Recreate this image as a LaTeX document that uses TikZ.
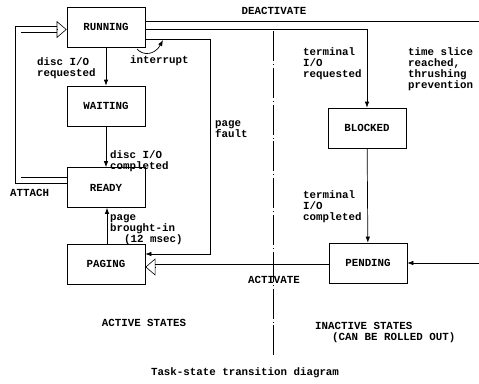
\documentclass[tikz,border=0pt]{standalone}
\usepackage{fontspec}
\setmainfont{Liberation Mono}
\usetikzlibrary{arrows.meta}
\tikzset{mybox/.style={draw,line width=0.7pt,minimum width=78pt,minimum height=40pt,inner sep=0pt}}
\tikzset{mydraw/.style={line width=0.7pt,-{Latex[length=6pt,width=4.5pt]}}}
\tikzset{mydbl/.style={line width=0.6pt,double,double distance=5pt}}
\tikzset{mytip/.style={line width=0.6pt,-{Triangle[open,length=10pt,width=17pt]}}}
\tikzset{mynode/.style={inner sep=0pt,align=left}}

\begin{document}
\begin{tikzpicture}[x=1pt,y=-1pt,every node/.style={font=\fontsize{10.8}{11.2}\selectfont\bfseries}]
	\useasboundingbox (0,0) rectangle (479,383);

	\node[mybox] (running) at (106,27) {RUNNING};
	\node[mybox] (waiting) at (106,106) {WAITING};
	\node[mybox] (ready) at (106,187.5) {READY};
	\node[mybox] (paging) at (106,264) {PAGING};
	\node[mybox] (blocked) at (367,128) {BLOCKED};
	\node[mybox] (pending) at (368,263) {PENDING};

	% transitions
	\draw[mydraw] (running) -- (waiting);
	\draw[mydraw] (waiting) -- (ready);
	\draw[mydraw] ([xshift=1pt]paging.north) -- ([xshift=1pt]ready.south);
	\draw[mydraw] (blocked) -- (pending);
	\draw[mydraw] ([yshift=-12pt]running.east) -- ++(65,0) |- ([yshift=10pt]paging.east);
	\draw[mydraw] ([yshift=-2pt]running.east) -| (blocked.north);
	\draw[line width=0.7pt] ([yshift=6pt]running.east) -- (479,21);
	\coordinate (slice) at (479,263);
	\draw[mydraw] (slice) -- (pending.east);
	\coordinate (irq) at (137,49);
	\coordinate (irqend) at (163,40);
	\draw[mydraw] (irq) .. controls (143,56) and (155,55) .. (irqend);

	% double arrows (ATTACH, ACTIVATE)
	\draw[mydbl] ([yshift=7pt]ready.west) -| (18,100) |- ([xshift=-10pt,yshift=-2.5pt]running.west);
	\draw[mytip] ([xshift=-10pt,yshift=-2.5pt]running.west) -- ([yshift=-2.5pt]running.west);
	\draw[mydbl] ([yshift=-4pt]pending.west) -- ([xshift=10pt,yshift=-4pt]pending.west -| paging.east);
	\draw[mytip] ([xshift=10pt,yshift=-4pt]pending.west -| paging.east) -- ([yshift=-4pt]pending.west -| paging.east);

	% active / inactive divider
	\draw[line width=0.8pt,dash pattern=on 30pt off 3pt on 0.8pt off 3pt] (273,31) -- (273,355);

	% labels
	\node[mynode] (lbldeact) at (274,11) {DEACTIVATE};
	\node[mynode] (lblact) at (274,280) {ACTIVATE};
	\node[mynode,anchor=west] (lblattach) at (10,193) {ATTACH};
	\node[mynode,anchor=west] (lblirq) at (130,61) {interrupt};
	\node[mynode,anchor=north west] (lbldiscreq) at (37,57) {disc I/O\\requested};
	\node[mynode,anchor=north west] (lbldiscdone) at (110,150) {disc I/O\\completed};
	\node[mynode,anchor=north west] (lblpagein) at (110,214) {page\\brought-in\\\hspace*{14pt}(12 msec)};
	\node[mynode,anchor=north west] (lblfault) at (215,120) {page\\fault};
	\node[mynode,anchor=north west] (lbltermreq) at (303,47) {terminal\\I/O\\requested};
	\node[mynode,anchor=north west] (lbltermdone) at (303,190) {terminal\\I/O\\completed};
	\node[mynode,anchor=north west] (lblslice) at (408,47) {time slice\\reached,\\thrushing\\prevention};
	\node[mynode] (lblactive) at (144,323) {ACTIVE STATES};
	\node[mynode,anchor=north west] (lblinactive) at (315,322) {INACTIVE STATES\\\hspace*{17pt}(CAN BE ROLLED OUT)};
	\node[mynode] (caption) at (245,373) {Task-state transition diagram};
\end{tikzpicture}
\end{document}
